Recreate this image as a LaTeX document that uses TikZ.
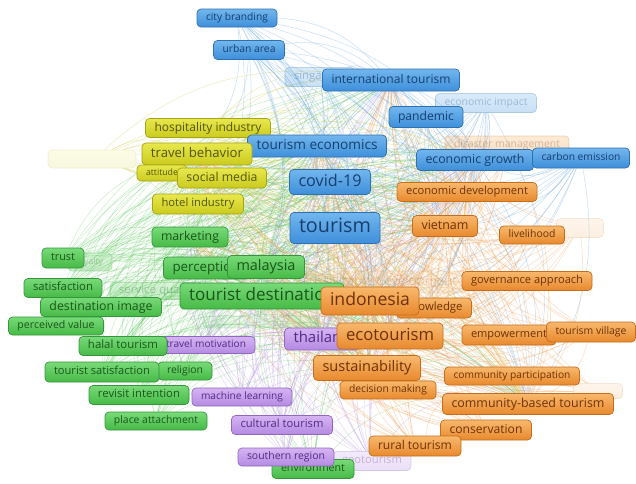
\documentclass[tikz,border=0pt]{standalone}
\usepackage{fontspec}
\usepackage{graphicx}
\setmainfont{Open Sans}
\pgfdeclarelayer{bg}
\pgfsetlayers{bg,main}
\definecolor{bT}{HTML}{72B6EE}\definecolor{bB}{HTML}{3E8FDA}\definecolor{bD}{HTML}{2F70B0}\definecolor{bX}{HTML}{173F6E}
\definecolor{yT}{HTML}{E8E84E}\definecolor{yB}{HTML}{CACA1E}\definecolor{yD}{HTML}{A4A416}\definecolor{yX}{HTML}{55550A}
\definecolor{gT}{HTML}{78DA78}\definecolor{gB}{HTML}{46BA46}\definecolor{gD}{HTML}{33963A}\definecolor{gX}{HTML}{1B561B}
\definecolor{pT}{HTML}{D6B4F2}\definecolor{pB}{HTML}{B48AE2}\definecolor{pD}{HTML}{9068C0}\definecolor{pX}{HTML}{532B86}
\definecolor{oT}{HTML}{F8B86C}\definecolor{oB}{HTML}{E8892E}\definecolor{oD}{HTML}{C46E1C}\definecolor{oX}{HTML}{6E3208}
\definecolor{eB}{HTML}{5A9FDC}\definecolor{eY}{HTML}{C8C830}\definecolor{eG}{HTML}{5CC85C}\definecolor{eP}{HTML}{B48AE0}\definecolor{eO}{HTML}{F09A48}
\tikzset{
  kwbox/.style={rounded corners=4pt, inner sep=0pt, line width=0.7pt, anchor=center},
  blu/.style={kwbox, top color=bT, bottom color=bB, draw=bD, text=bX},
  yel/.style={kwbox, top color=yT, bottom color=yB, draw=yD, text=yX},
  grn/.style={kwbox, top color=gT, bottom color=gB, draw=gD, text=gX},
  pur/.style={kwbox, top color=pT, bottom color=pB, draw=pD, text=pX},
  ora/.style={kwbox, top color=oT, bottom color=oB, draw=oD, text=oX},
  faded/.style={opacity=0.28},
  vfaded/.style={opacity=0.14},
  edge/.style={line width=0.55pt, opacity=0.32}
}
% name, x, y, width, height, style, text
\newcommand\kw[7]{\node[#6, minimum width=#4pt, minimum height=#5pt] (#1) at (#2,#3) {\resizebox{\dimexpr #4pt-18pt\relax}{!}{\vphantom{Tg}#7}};}
\newcommand\kwe[6]{\node[#6, minimum width=#4pt, minimum height=#5pt] (#1) at (#2,#3) {};}
\begin{document}
\begin{tikzpicture}[x=1pt,y=-1pt]
\useasboundingbox (0,0) rectangle (636,483);
% faded background keywords
\kwe{fadey}{92}{159}{88}{18}{yel,vfaded}
\kwe{fadeg}{261}{322}{116}{12}{grn,vfaded}
\kwe{poverty}{580}{228}{47}{19}{ora,vfaded}
\kwe{fadeo}{598}{391}{49}{15}{ora,vfaded}
\kw{sustdev}{380}{282}{172}{22}{ora,vfaded}{sustainable development}
\kw{singa}{320}{77}{70}{19}{blu,faded}{singapore}
\kw{econimp}{486}{103}{101}{19}{blu,faded}{economic impact}
\kw{disaster}{507}{145}{124}{18}{ora,faded}{disaster management}
\kw{loyalty}{90}{262}{44}{18}{grn,faded}{loyalty}
\kw{servq}{157}{291}{94}{17}{grn,faded}{service quality}
\kw{geo}{372}{461}{78}{19}{pur,faded}{geotourism}
% blue cluster
\kw{cityb}{237}{18}{80}{18}{blu}{city branding}
\kw{urban}{249}{50}{71}{19}{blu}{urban area}
\kw{intl}{391}{80}{137}{22}{blu}{international tourism}
\kw{pandemic}{426}{117}{74}{21}{blu}{pandemic}
% yellow
\kw{hosp}{208}{128}{125}{19}{yel}{hospitality industry}
\kw{toureco}{317}{146}{139}{22}{blu}{tourism economics}
\kw{econgr}{475}{160}{117}{21}{blu}{economic growth}
\kw{carbon}{581}{158}{97}{20}{blu}{carbon emission}
\kw{covid}{330}{182}{81}{25}{blu}{covid-19}
\kw{tourism}{335}{228}{90}{31}{blu}{tourism}
\kw{travelb}{197}{154}{110}{22}{yel}{travel behavior}
\kw{attitude}{162}{173}{50}{16}{yel}{attitude}
\kw{social}{222}{178}{89}{20}{yel}{social media}
\kw{hotel}{198}{204}{91}{20}{yel}{hotel industry}
% green
\kw{marketing}{190}{237}{76}{20}{grn}{marketing}
\kw{trust}{63}{258}{42}{20}{grn}{trust}
\kw{perception}{206}{268}{85}{22}{grn}{perception}
\kw{malaysia}{266}{267}{77}{23}{grn}{malaysia}
\kw{satisf}{63}{288}{78}{19}{grn}{satisfaction}
\kw{tdest}{262}{296}{164}{26}{grn}{tourist destination}
\kw{destimg}{101}{307}{121}{19}{grn}{destination image}
\kw{percval}{56}{326}{95}{18}{grn}{perceived value}
\kw{travmot}{206}{345}{98}{17}{pur}{travel motivation}
\kw{halal}{123}{346}{88}{19}{grn}{halal tourism}
\kw{religion}{185}{371}{54}{18}{grn}{religion}
\kw{toursat}{102}{372}{114}{20}{grn}{tourist satisfaction}
\kw{revisit}{139}{395}{100}{19}{grn}{revisit intention}
\kw{machine}{242}{397}{100}{18}{pur}{machine learning}
\kw{place}{156}{421}{102}{18}{grn}{place attachment}
\kw{cultural}{282}{425}{101}{19}{pur}{cultural tourism}
\kw{environ}{313}{469}{82}{19}{grn}{environment}
\kw{southern}{286}{457}{96}{18}{pur}{southern region}
% orange
\kw{econdev}{467}{192}{140}{19}{ora}{economic development}
\kw{vietnam}{445}{226}{65}{21}{ora}{vietnam}
\kw{livelihood}{532}{235}{65}{18}{ora}{livelihood}
\kw{govern}{527}{281}{130}{19}{ora}{governance approach}
\kw{knowledge}{434}{308}{75}{20}{ora}{knowledge}
\kw{indonesia}{370}{301}{98}{28}{ora}{indonesia}
\kw{thailand}{322}{339}{75}{22}{pur}{thailand}
\kw{ecotour}{390}{336}{106}{26}{ora}{ecotourism}
\kw{empower}{509}{335}{94}{20}{ora}{empowerment}
\kw{village}{591}{332}{89}{20}{ora}{tourism village}
\kw{decision}{388}{390}{96}{18}{ora}{decision making}
\kw{sustain}{367}{368}{107}{25}{ora}{sustainability}
\kw{commpart}{512}{376}{135}{18}{ora}{community participation}
\kw{cbt}{528}{404}{171}{21}{ora}{community-based tourism}
\kw{conserv}{486}{430}{91}{20}{ora}{conservation}
\kw{rural}{415}{446}{92}{20}{ora}{rural tourism}
% links
\begin{pgfonlayer}{bg}
\foreach \src/\col in {cityb/eB,urban/eB,singa/eB,intl/eB,econimp/eB,pandemic/eB,toureco/eB,econgr/eB,carbon/eB,covid/eB,tourism/eB,
  hosp/eY,travelb/eY,fadey/eY,attitude/eY,social/eY,hotel/eY,
  marketing/eG,trust/eG,loyalty/eG,perception/eG,malaysia/eG,satisf/eG,servq/eG,tdest/eG,destimg/eG,percval/eG,fadeg/eG,halal/eG,toursat/eG,religion/eG,revisit/eG,place/eG,environ/eG,
  travmot/eP,thailand/eP,machine/eP,cultural/eP,southern/eP,geo/eP,
  econdev/eO,vietnam/eO,livelihood/eO,poverty/eO,govern/eO,knowledge/eO,sustdev/eO,indonesia/eO,ecotour/eO,empower/eO,village/eO,sustain/eO,decision/eO,commpart/eO,fadeo/eO,cbt/eO,conserv/eO,rural/eO,disaster/eO}{
  \foreach \dst in {tourism,indonesia,ecotour,tdest,covid,malaysia,sustain,toureco,vietnam,econdev,marketing,travelb,thailand,cbt,econgr,intl}{
    \ifnum\strcmp{\src}{\dst}=0 \else \draw[edge,draw=\col] (\src) to[bend left=22] (\dst); \fi
  }
}
\end{pgfonlayer}
\end{tikzpicture}
\end{document}
